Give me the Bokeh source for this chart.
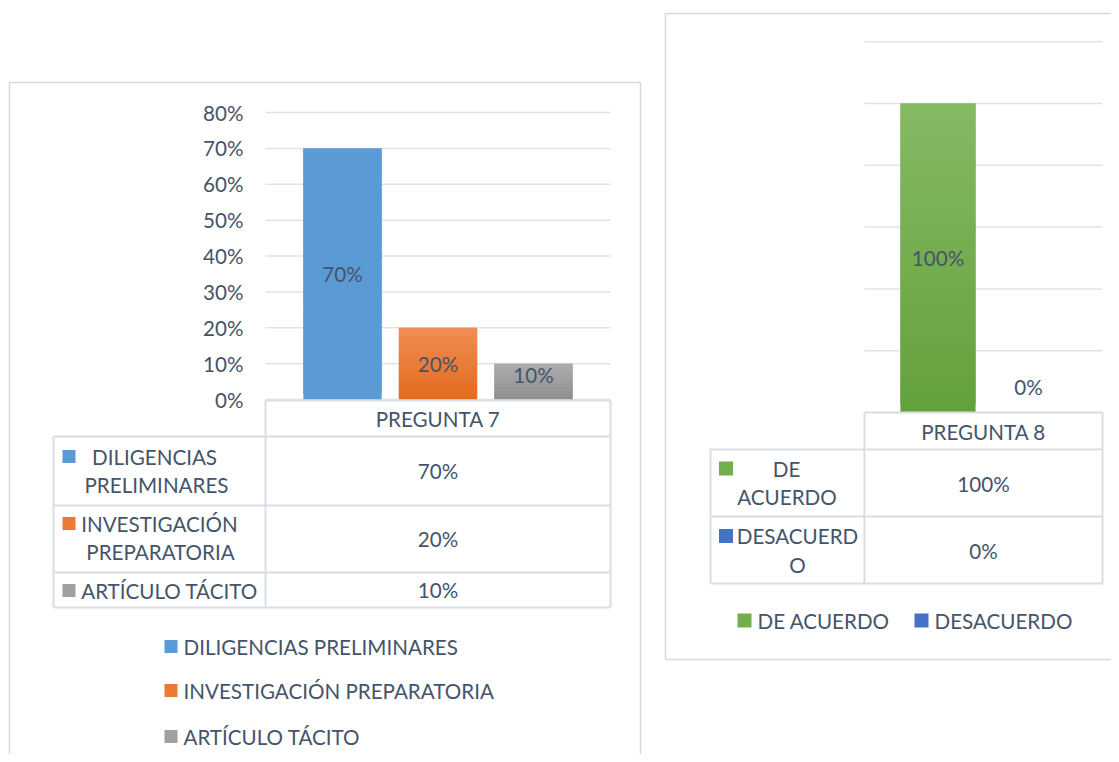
from bokeh.plotting import figure
from bokeh.models import Range1d
from bokeh.core.properties import value
from bokeh.embed import file_html
from bokeh.resources import INLINE

# ---------------- data ----------------
p7_category = "PREGUNTA 7"
p7_series = ["DILIGENCIAS PRELIMINARES", "INVESTIGACIÓN PREPARATORIA", "ARTÍCULO TÁCITO"]
p7_values = [0.70, 0.20, 0.10]
p7_ticks = [0.0, 0.1, 0.2, 0.3, 0.4, 0.5, 0.6, 0.7, 0.8]
p7_tick_labels = ["0%", "10%", "20%", "30%", "40%", "50%", "60%", "70%", "80%"]
p7_table_lines = [["DILIGENCIAS", "PRELIMINARES"], ["INVESTIGACIÓN", "PREPARATORIA"], ["ARTÍCULO TÁCITO"]]

p8_category = "PREGUNTA 8"
p8_series = ["DE ACUERDO", "DESACUERDO"]
p8_values = [1.00, 0.00]
p8_ticks = [0.0, 0.2, 0.4, 0.6, 0.8, 1.0, 1.2]
p8_table_lines = [["DE", "ACUERDO"], ["DESACUERD", "O"]]

# ---------------- styles ----------------
p7_colors = ["#5B9BD5", "#EC7A33", "#A0A0A0"]
p7_grad = [("#5B9BD5", "#5B9BD5"), ("#F18D55", "#E36B1B"), ("#ADADAD", "#8F8F8F")]
p8_colors = ["#72AE4B", "#4472C4"]
p8_grad = [("#85BA64", "#63A13A"), ("#5A86D0", "#2F5FB8")]
FONT = value("Lato")
TXT = "#44546A"
FS = "20.6px"
GRID = "#DFE3E9"
TBL = "#D9DEE5"
BOX = "#D9D9D9"

PX0, PX1 = 0, 1111
PY0, PY1 = 0, 754


def lin_range(p_a, v_a, p_b, v_b, p_start, p_end):
    k = (v_b - v_a) / (p_b - p_a)
    return Range1d(start=v_a + (p_start - p_a) * k, end=v_a + (p_end - p_a) * k)


def pct(v):
    return f"{round(v * 100)}%"


def mix(c0, c1, t):
    a = [int(c0[i:i + 2], 16) for i in (1, 3, 5)]
    b = [int(c1[i:i + 2], 16) for i in (1, 3, 5)]
    return "#" + "".join(f"{round(x + (y - x) * t):02x}" for x, y in zip(a, b))


def gradient_bars(fig, values, grads, width, xr, yr, n=40):
    # each bar is filled bottom-to-top in overlapping bands, so the colour
    # blends from the bottom shade to the top shade without seams
    xs, tops, bottoms, cols = [], [], [], []
    for i, (v, (ctop, cbot)) in enumerate(zip(values, grads)):
        if v <= 0:
            continue
        for k in range(n):
            xs.append(i)
            bottoms.append(v * k / n)
            tops.append(min(v, v * (k + 2) / n))
            cols.append(mix(cbot, ctop, (k + 0.5) / n))
    fig.vbar(x=xs, top=tops, bottom=bottoms, width=width, fill_color=cols, line_color=None,
             x_range_name=xr, y_range_name=yr)


p = figure(width=PX1 - PX0, height=PY1 - PY0,
           x_range=Range1d(PX0, PX1), y_range=Range1d(PY1, PY0),
           output_backend="svg", toolbar_location=None, min_border=0,
           x_axis_location=None, y_axis_location=None,
           outline_line_color=None, background_fill_color="white")
p.grid.grid_line_color = None

# value scales for each chart
p.extra_y_ranges = {
    "y7": lin_range(399, 0.0, 112, 0.8, PY1, PY0),
    "y8": lin_range(412, 0.0, 103, 1.0, PY1, PY0),
}
p.extra_x_ranges = {
    "x7": lin_range(342, 0, 437.5, 1, PX0, PX1),
    "x8": lin_range(937.5, 0, 1028, 1, PX0, PX1),
}
px_per_unit7 = (399 - 112) / 0.8
px_per_unit8 = (412 - 103) / 1.0

txt = dict(text_font=FONT, text_font_size=FS, text_color=TXT, text_baseline="middle")

# ---------------- chart boxes ----------------
p.quad(left=[9], right=[640], top=[82], bottom=[800], fill_color=None, line_color=BOX, line_width=1.5)
p.quad(left=[665], right=[1140], top=[13], bottom=[659], fill_color=None, line_color=BOX, line_width=1.5)

# ---------------- chart 7 ----------------
n7 = len(p7_ticks)
p.segment(x0=[265] * n7, x1=[610] * n7, y0=p7_ticks, y1=p7_ticks, y_range_name="y7",
          line_color=GRID, line_width=1.5)
p.text(x=[243] * n7, y=p7_ticks, text=p7_tick_labels, y_range_name="y7", text_align="right", **txt)
idx7 = list(range(len(p7_values)))
gradient_bars(p, p7_values, p7_grad, 0.82, "x7", "y7")
lab7_y = [max(v / 2, 25 / px_per_unit7) for v in p7_values]
p.text(x=idx7, y=lab7_y, text=[pct(v) for v in p7_values], x_range_name="x7", y_range_name="y7",
       text_align="center", **txt)

# table 7
p.segment(x0=[265, 53, 53, 53, 265, 610, 53, 265, 53],
          x1=[610, 610, 610, 610, 265, 610, 53, 265, 610],
          y0=[400, 436, 505, 572, 400, 400, 436, 607, 607],
          y1=[400, 436, 505, 572, 607, 607, 607, 607, 607],
          line_color=TBL, line_width=2)
p.text(x=[437.5], y=[418], text=[p7_category], text_align="center", **txt)
row7_mid = [470, 538.5, 589.5]
p.text(x=[437.5] * 3, y=row7_mid, text=[pct(v) for v in p7_values], text_align="center", **txt)
line_x7 = [[154, 156], [159, 160], [169]]
line_y7 = [[456, 484], [523, 551], [590]]
lx, ly, lt = [], [], []
for lines, xs, ys in zip(p7_table_lines, line_x7, line_y7):
    for t, xx, yy in zip(lines, xs, ys):
        lx.append(xx); ly.append(yy); lt.append(t)
p.text(x=lx, y=ly, text=lt, text_align="center", **txt)
p.scatter(x=[68.5] * 3, y=[456, 523, 590], marker="square", size=13, fill_color=p7_colors, line_color=None)

# legend 7
leg7_y = [646, 690, 736]
p.scatter(x=[170.5] * 3, y=leg7_y, marker="square", size=13, fill_color=p7_colors, line_color=None)
p.text(x=[183] * 3, y=leg7_y, text=p7_series, text_align="left", **txt)

# ---------------- chart 8 ----------------
n8 = len(p8_ticks)
p.segment(x0=[864] * n8, x1=[1102] * n8, y0=p8_ticks, y1=p8_ticks, y_range_name="y8",
          line_color=GRID, line_width=1.5)
idx8 = list(range(len(p8_values)))
gradient_bars(p, p8_values, p8_grad, 0.83, "x8", "y8")
lab8_y = [max(v / 2, 26 / px_per_unit8) for v in p8_values]
p.text(x=idx8, y=lab8_y, text=[pct(v) for v in p8_values], x_range_name="x8", y_range_name="y8",
       text_align="center", **txt)

# table 8
p.segment(x0=[864, 710, 710, 710, 864, 1102, 710],
          x1=[1102, 1102, 1102, 1102, 864, 1102, 710],
          y0=[412, 449, 516, 583, 412, 412, 449],
          y1=[412, 449, 516, 583, 583, 583, 583],
          line_color=TBL, line_width=2)
p.text(x=[983], y=[431], text=[p8_category], text_align="center", **txt)
p.text(x=[983] * 2, y=[483, 550], text=[pct(v) for v in p8_values], text_align="center", **txt)
line_x8 = [[786, 786.5], [797, 797]]
line_y8 = [[468, 496], [535, 564]]
lx, ly, lt = [], [], []
for lines, xs, ys in zip(p8_table_lines, line_x8, line_y8):
    for t, xx, yy in zip(lines, xs, ys):
        lx.append(xx); ly.append(yy); lt.append(t)
p.text(x=lx, y=ly, text=lt, text_align="center", **txt)
p.scatter(x=[725.5] * 2, y=[468, 535.5], marker="square", size=14, fill_color=p8_colors, line_color=None)

# legend 8
p.scatter(x=[744, 921], y=[620, 620], marker="square", size=14, fill_color=p8_colors, line_color=None)
p.text(x=[757, 934], y=[620, 620], text=p8_series, text_align="left", **txt)

open("out.html", "w").write(file_html(p, INLINE))
